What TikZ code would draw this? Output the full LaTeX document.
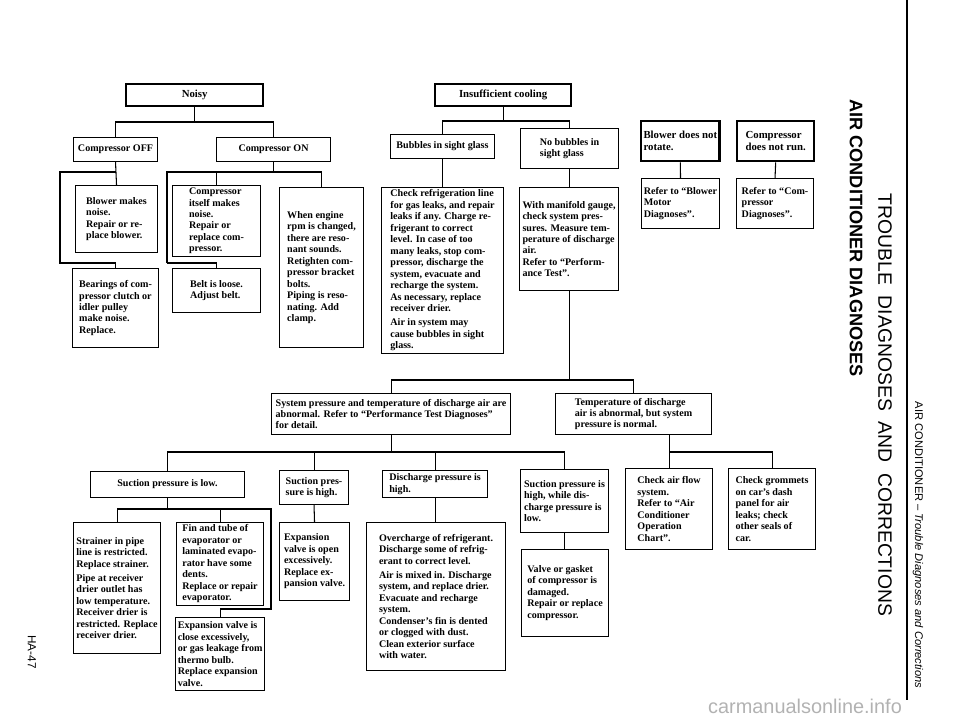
\documentclass[tikz,border=0pt]{standalone}
\usepackage{fontspec}
\setmainfont{Liberation Serif}
\setsansfont{Liberation Sans}
\begin{document}
\begin{tikzpicture}[x=0.03cm,y=-0.03cm,line width=0.9pt,
	box/.style 2 args={draw,anchor=north west,align=left,inner sep=2pt,
		minimum width=#1*0.03cm,minimum height=#2*0.03cm,
		font=\fontsize{8.6}{9.8}\selectfont\bfseries},
	topbox/.style 2 args={box={#1}{#2},line width=2pt,font=\fontsize{9.2}{10.5}\selectfont\bfseries}]
	\useasboundingbox (0,0) rectangle (960,723);
	%noisy
	\node[topbox={137}{22}] (noisy) at (125,83) {Noisy};
	\node[box={84}{24}] (off) at (73,137) {Compressor OFF};
	\node[box={114}{24}] (on) at (216,137) {Compressor ON};
	\node[box={82}{67}] (blower) at (75,185) {Blower makes\\noise.\\Repair or re-\\place blower.};
	\node[box={86}{79}] (bearings) at (72,268) {Bearings of com-\\pressor clutch or\\idler pulley\\make noise.\\Replace.};
	\node[box={88}{67}] (itself) at (172,185) {Compressor\\itself makes\\noise.\\Repair or\\replace com-\\pressor.};
	\node[box={88}{44}] (belt) at (172,268) {Belt is loose.\\Adjust belt.};
	\node[box={84}{160}] (engine) at (279,187) {When engine\\rpm is changed,\\there are reso-\\nant sounds.\\Retighten com-\\pressor bracket\\bolts.\\Piping is reso-\\nating. Add\\clamp.};
	\coordinate (railA) at (60,172);
	\coordinate (railB) at (60,263);
	\coordinate (railC) at (167,172);
	\coordinate (railD) at (167,263);
	\draw (noisy.south) -- (noisy.south |- 0,122) -| (off.north);
	\draw (noisy.south |- 0,122) -| (on.north);
	\draw (off.south) -- (blower.north);
	\draw (off.south |- railA) -- (railA) -- (railB) -| (bearings.north);
	\draw (on.south) -- (on.south |- railC);
	\draw (railD) -- (railC) -| (engine.north);
	\draw (railC) -| (itself.north);
	\draw (railD) -| (belt.north);
	%insufficient cooling
	\node[topbox={136}{22}] (insuff) at (434,83) {Insufficient cooling};
	\node[box={104}{24}] (bubbles) at (390,134) {Bubbles in sight glass};
	\node[box={98}{40}] (nobub) at (520,128) {No bubbles in\\sight glass};
	\node[box={122}{161}] (check) at (381,187) {Check refrigeration line\\for gas leaks, and repair\\leaks if any. Charge re-\\frigerant to correct\\level. In case of too\\many leaks, stop com-\\pressor, discharge the\\system, evacuate and\\recharge the system.\\As necessary, replace\\receiver drier.\\[2pt]Air in system may\\cause bubbles in sight\\glass.};
	\node[box={99}{103}] (manifold) at (519,187) {With manifold gauge,\\check system pres-\\sures. Measure tem-\\perature of discharge\\air.\\Refer to ``Perform-\\ance Test''.};
	\draw (insuff.south) -- (insuff.south |- 0,121) -| (bubbles.north);
	\draw (insuff.south |- 0,121) -| (nobub.north);
	\draw (bubbles.south) -- (check.north);
	\draw (nobub.south) -- (nobub.south |- manifold.north);
	%blower, compressor
	\node[topbox={78}{40}] (blowrot) at (640,120) {Blower does not\\rotate.};
	\node[box={77}{50}] (referblow) at (641,178) {Refer to ``Blower\\Motor\\Diagnoses''.};
	\node[topbox={77}{40}] (comprun) at (736,120) {Compressor\\does not run.};
	\node[box={77}{50}] (refercomp) at (736,178) {Refer to ``Com-\\pressor\\Diagnoses''.};
	\draw (blowrot.south) -- (referblow.north);
	\draw (comprun.south) -- (refercomp.north);
	%pressure
	\node[box={239}{41}] (system) at (271,393) {System pressure and temperature of discharge air are\\abnormal. Refer to ``Performance Test Diagnoses''\\for detail.};
	\node[box={156}{41}] (temp) at (555,393) {Temperature of discharge\\air is abnormal, but system\\pressure is normal.};
	\coordinate (busE) at (0,380);
	\draw (manifold.south) |- (system.north |- busE) -- (system.north);
	\draw (manifold.south |- busE) -| (temp.north);
	\node[box={154}{26}] (suclow) at (90,471) {Suction pressure is low.};
	\node[box={69}{34}] (suchigh) at (279,470) {Suction pres-\\sure is high.};
	\node[box={105}{27}] (dischigh) at (382,470) {Discharge pressure is\\high.};
	\node[box={88}{63}] (sucwhile) at (520,469) {Suction pressure is\\high, while dis-\\charge pressure is\\low.};
	\node[box={87}{131}] (strainer) at (73,522) {Strainer in pipe\\line is restricted.\\Replace strainer.\\[2pt]Pipe at receiver\\drier outlet has\\low temperature.\\Receiver drier is\\restricted. Replace\\receiver drier.};
	\node[box={87}{78}] (fin) at (176,522) {Fin and tube of\\evaporator or\\laminated evapo-\\rator have some\\dents.\\Replace or repair\\evaporator.};
	\node[box={89}{73}] (expclose) at (175,617) {Expansion valve is\\close excessively,\\or gas leakage from\\thermo bulb.\\Replace expansion\\valve.};
	\node[box={70}{78}] (expopen) at (279,522) {Expansion\\valve is open\\excessively.\\Replace ex-\\pansion valve.};
	\node[box={139}{148}] (overcharge) at (366,522) {Overcharge of refrigerant.\\Discharge some of refrig-\\erant to correct level.\\[2pt]Air is mixed in. Discharge\\system, and replace drier.\\Evacuate and recharge\\system.\\Condenser's fin is dented\\or clogged with dust.\\Clean exterior surface\\with water.};
	\node[box={87}{87}] (valve) at (521,549) {Valve or gasket\\of compressor is\\damaged.\\Repair or replace\\compressor.};
	\node[box={87}{81}] (airflow) at (625,468) {Check air flow\\system.\\Refer to ``Air\\Conditioner\\Operation\\Chart''.};
	\node[box={87}{81}] (grommets) at (728,468) {Check grommets\\on car's dash\\panel for air\\leaks; check\\other seals of\\car.};
	\coordinate (busF) at (0,452);
	\coordinate (railG) at (271,509);
	\coordinate (railH) at (271,609);
	\draw (system.south) -- (system.south |- busF);
	\draw (suclow.north) |- (sucwhile.north |- busF) -- (sucwhile.north);
	\draw (suchigh.north) -- (suchigh.north |- busF);
	\draw (dischigh.north) -- (dischigh.north |- busF);
	\draw (suclow.south) -- (suclow.south |- railG);
	\draw (strainer.north) |- (railG) -- (railH) -| (expclose.north);
	\draw (fin.north) -- (fin.north |- railG);
	\draw (suchigh.south) -- (expopen.north);
	\draw (dischigh.south) -- (dischigh.south |- overcharge.north);
	\draw (sucwhile.south) -- (sucwhile.south |- valve.north);
	\draw (airflow.north) -- (airflow.north |- temp.south);
	\draw (airflow.north |- busF) -| (grommets.north);
	%page titles
	\node[rotate=-90,font=\sffamily\fontsize{16.5}{16.5}\selectfont] (title) at (885,405) {TROUBLE\ \ DIAGNOSES\ \ AND\ \ CORRECTIONS};
	\node[rotate=-90,font=\sffamily\bfseries\fontsize{15.5}{15.5}\selectfont] (subtitle) at (856,238) {AIR CONDITIONER DIAGNOSES};
	\node[rotate=-90,font=\sffamily\fontsize{9.5}{9.5}\selectfont] (header) at (918,545) {AIR CONDITIONER -- \textit{Trouble Diagnoses and Corrections}};
	\draw (907,0) -- (907,700);
	\node[rotate=-90,font=\sffamily\fontsize{10}{10}\selectfont] (page) at (32,652) {HA-47};
	\node[font=\sffamily\fontsize{17}{17}\selectfont,text=gray!60] (mark) at (805,706) {carmanualsonline.info};
\end{tikzpicture}
\end{document}
